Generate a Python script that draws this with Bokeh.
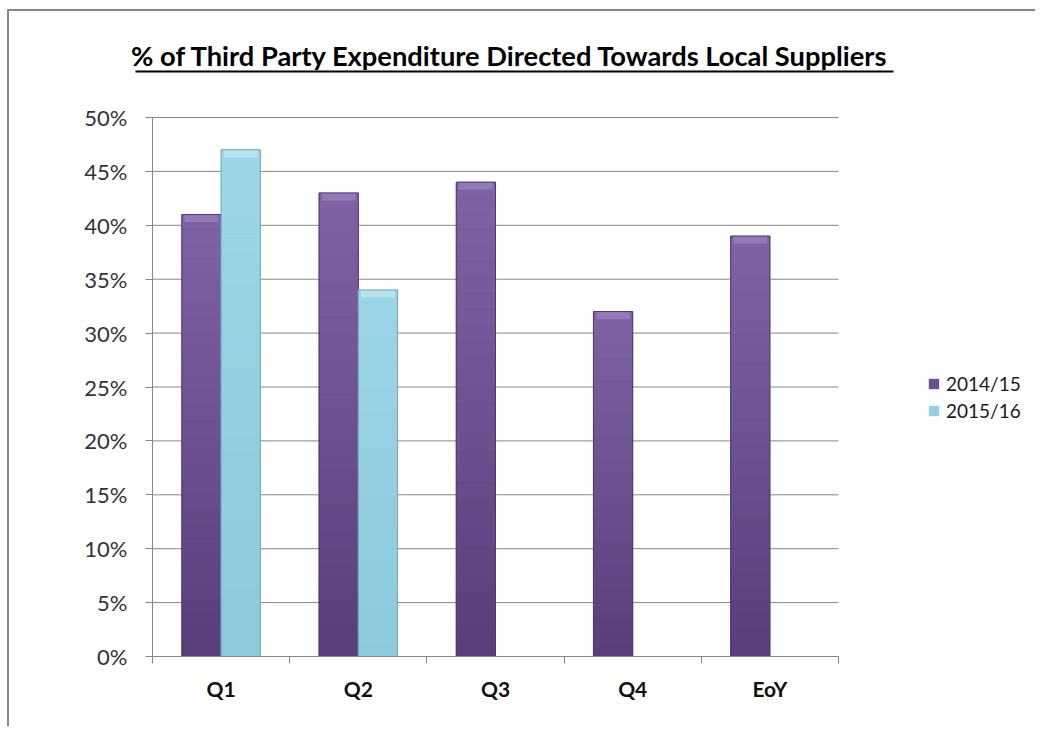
from bokeh.plotting import figure
from bokeh.models import (ColumnDataSource, Range1d, FixedTicker, LinearAxis, Label,
                          PrintfTickFormatter, Legend, LegendItem)
from bokeh.transform import dodge
from bokeh.embed import file_html
from bokeh.resources import INLINE

categories = ["Q1", "Q2", "Q3", "Q4", "EoY"]
series_names = ["2014/15", "2015/16"]
values_2014 = [41, 43, 44, 32, 39]
values_2015 = [47, 34, None, None, None]
y_ticks = [0, 5, 10, 15, 20, 25, 30, 35, 40, 45, 50]
title_text = "% of Third Party Expenditure Directed Towards  Local Suppliers"

GRAY = "#868686"
PURPLE = "#6a4f91"
PURPLE_BOTTOM = (0x5a, 0x3e, 0x7b)
PURPLE_TOP = (0x7f, 0x63, 0xa5)
PURPLE_LINE = "#4e3870"
PURPLE_CAP = "#9279b8"
CYAN = "#93cfe0"
CYAN_BOTTOM = (0x8b, 0xc9, 0xdb)
CYAN_TOP = (0x9c, 0xd6, 0xe6)
CYAN_LINE = "#6fa9ba"
CYAN_CAP = "#b8e3ee"
FONT = "Lato"

n = len(categories)
y_max = y_ticks[-1]
centres = [i + 0.5 for i in range(n)]

# layout: one frame covering the whole chart (axes fixed at x=0 / y=0)
FRAME_W, FRAME_H = 1026, 715
PX_PER_CAT = 137.2
PX_PER_PCT = 10.78
X0_PX = 143            # frame-left to value axis
Y0_PX = 70             # frame-bottom to category axis
x_start = -X0_PX / PX_PER_CAT
x_end = x_start + FRAME_W / PX_PER_CAT
y_start = -Y0_PX / PX_PER_PCT
y_end = y_start + FRAME_H / PX_PER_PCT
ZERO_Y = 656           # page y of the 0% line, page x of axis = 152

p = figure(x_range=Range1d(x_start, x_end), y_range=Range1d(y_start, y_end),
           frame_width=FRAME_W, frame_height=FRAME_H,
           min_border_left=0, min_border_right=0, min_border_top=0, min_border_bottom=0,
           output_backend="svg", toolbar_location=None,
           x_axis_location=None, y_axis_location=None)
p.styles = {"border-left": f"2px solid {GRAY}", "border-top": f"2px solid {GRAY}",
            "margin-left": "7px", "margin-top": "9px"}
p.outline_line_color = None
p.background_fill_color = "white"
p.border_fill_color = "white"
p.xgrid.grid_line_color = None
p.ygrid.grid_line_color = None

# horizontal gridlines across the category area
p.segment(x0=[0] * len(y_ticks), x1=[n] * len(y_ticks), y0=y_ticks, y1=y_ticks,
          line_color=GRAY, line_width=1)

off = 0.143
w = 0.286
BANDS = 30


def mix(c0, c1, t):
    return "#%02x%02x%02x" % tuple(round(a + (b - a) * t) for a, b in zip(c0, c1))


def draw_series(xs, vals, shift, base, c_bot, c_top, cap_col, line_col):
    src = ColumnDataSource(dict(x=xs, val=vals, cap=[v - 0.7 for v in vals]))
    r = p.vbar(x=dodge("x", shift), top="val", bottom=0, width=w, source=src,
               fill_color=base, line_color=None)
    for k in range(BANDS):
        bsrc = ColumnDataSource(dict(x=xs, b=[v * k / BANDS for v in vals],
                                     t=[v * (k + 1) / BANDS for v in vals]))
        col = mix(c_bot, c_top, (k + 0.5) / BANDS)
        p.vbar(x=dodge("x", shift), top="t", bottom="b", width=w, source=bsrc,
               fill_color=col, line_color=col, line_width=0.6)
    p.vbar(x=dodge("x", shift), top="val", bottom="cap", width=w * 0.86, source=src,
           fill_color=cap_col, line_color=None)
    p.vbar(x=dodge("x", shift), top="val", bottom=0, width=w, source=src,
           fill_color=None, line_color=line_col, line_width=1)
    return r


r1 = draw_series(centres, values_2014, -off, PURPLE, PURPLE_BOTTOM, PURPLE_TOP,
                 PURPLE_CAP, PURPLE_LINE)
idx2 = [i for i, v in enumerate(values_2015) if v is not None]
r2 = draw_series([centres[i] for i in idx2], [values_2015[i] for i in idx2], off, CYAN,
                 CYAN_BOTTOM, CYAN_TOP, CYAN_CAP, CYAN_LINE)

# y axis at x = 0
yax = LinearAxis(fixed_location=0, bounds=(0, y_max),
                 ticker=FixedTicker(ticks=y_ticks),
                 formatter=PrintfTickFormatter(format="%d%%"))
yax.axis_line_color = GRAY
yax.major_tick_line_color = GRAY
yax.major_tick_out = 7
yax.major_tick_in = 0
yax.minor_tick_line_color = None
yax.major_label_text_font = FONT
yax.major_label_text_font_size = "22px"
yax.major_label_text_color = "#333333"
yax.major_label_standoff = 18
p.add_layout(yax, "left")

# x axis at y = 0: labels at category centres, tick marks at boundaries
xax = LinearAxis(fixed_location=0, bounds=(0, n),
                 ticker=FixedTicker(ticks=centres, minor_ticks=list(range(n + 1))),
                 major_label_overrides={c: lab for c, lab in zip(centres, categories)})
xax.axis_line_color = GRAY
xax.major_tick_line_color = None
xax.minor_tick_line_color = GRAY
xax.minor_tick_out = 7
xax.minor_tick_in = 0
xax.major_label_text_font = FONT
xax.major_label_text_font_size = "21px"
xax.major_label_text_font_style = "bold"
xax.major_label_text_color = "#111111"
xax.major_label_standoff = 12
p.add_layout(xax, "below")

# title with underline
title_x = (513 - 152) / PX_PER_CAT
title_y = (ZERO_Y - 55) / PX_PER_PCT
p.add_layout(Label(x=title_x, y=title_y, text=title_text, text_align="center",
                   text_baseline="alphabetic", text_font=FONT, text_font_size="27.3px",
                   text_font_style="bold", text_color="#000000"))
ul_y = (ZERO_Y - 71) / PX_PER_PCT
p.segment(x0=[(135 - 152) / PX_PER_CAT], x1=[(893 - 152) / PX_PER_CAT],
          y0=[ul_y], y1=[ul_y], line_color="#000000", line_width=2)

legend = Legend(items=[LegendItem(label=series_names[0], renderers=[r1]),
                       LegendItem(label=series_names[1], renderers=[r2])],
                location=(918, 304), orientation="vertical")
legend.padding = 0
legend.margin = 0
legend.spacing = 4
legend.glyph_width = 13
legend.glyph_height = 13
legend.label_standoff = 6
legend.label_text_font = FONT
legend.label_text_font_size = "19px"
legend.label_text_color = "#1a1a1a"
legend.border_line_color = None
legend.background_fill_alpha = 0
p.add_layout(legend, "center")

open("out.html", "w").write(file_html(p, INLINE))
